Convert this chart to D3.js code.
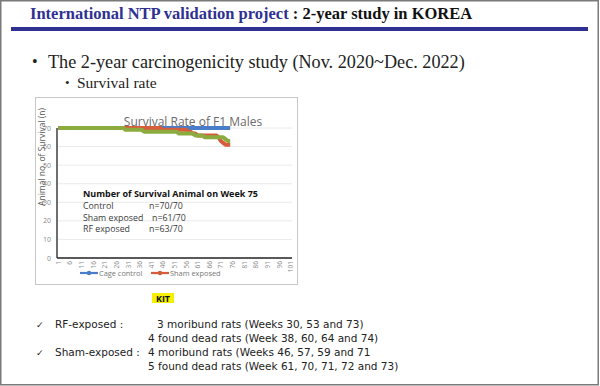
<!DOCTYPE html>
<html>
<head>
<meta charset="utf-8">
<script src="https://cdn.jsdelivr.net/npm/d3@7"></script>
<style>
  body { margin: 0; background: #fff; }
  svg { display: block; }
</style>
</head>
<body>
<div id="app"></div>
<script>
// weeks 1..101 on the category axis, labelled every 5th week
const weeks = d3.range(1, 102);
const tickWeeks = [1, 6, 11, 16, 21, 26, 31, 36, 41, 46, 51, 56, 61, 66, 71, 76, 81, 86, 91, 96, 101];
const yTicks = [0, 10, 20, 30, 40, 50, 60, 70];

// number of surviving animals, weeks 1..75
const cageControl = [
  70, 70, 70, 70, 70, 70, 70, 70, 70, 70, 70, 70, 70, 70, 70,
  70, 70, 70, 70, 70, 70, 70, 70, 70, 70, 70, 70, 70, 70, 70,
  70, 70, 70, 70, 70, 70, 70, 70, 70, 70, 70, 70, 70, 70, 70,
  70, 70, 70, 70, 70, 70, 70, 70, 70, 70, 70, 70, 70, 70, 70,
  70, 70, 70, 70, 70, 70, 70, 70, 70, 70, 70, 70, 70, 70, 70
];
const shamExposed = [
  70, 70, 70, 70, 70, 70, 70, 70, 70, 70, 70, 70, 70, 70, 70,
  70, 70, 70, 70, 70, 70, 70, 70, 70, 70, 70, 70, 70, 70, 70,
  70, 70, 70, 70, 70, 70, 70, 70, 70, 70, 70, 70, 70, 70, 70,
  69, 69, 69, 69, 69, 69, 69, 69, 69, 69, 69, 68, 68, 67, 67,
  66, 66, 66, 66, 66, 66, 66, 66, 66, 65, 63, 62, 61, 61, 61
];
const rfExposed = [
  70, 70, 70, 70, 70, 70, 70, 70, 70, 70, 70, 70, 70, 70, 70,
  70, 70, 70, 70, 70, 70, 70, 70, 70, 70, 70, 70, 70, 70, 69,
  69, 69, 69, 69, 69, 69, 69, 68, 68, 68, 68, 68, 68, 68, 68,
  68, 68, 68, 68, 68, 68, 68, 67, 67, 67, 67, 67, 67, 67, 66,
  66, 66, 66, 65, 65, 65, 65, 65, 65, 65, 65, 65, 64, 63, 63
];

const seriesNames = ["Cage control", "Sham exposed", "RF exposed"];
const summaryRows = [["Control", "n=70/70"], ["Sham exposed", "n=61/70"], ["RF exposed", "n=63/70"]];

let width = 600, height = 386;
const colors = ["#4a7dc9", "#d65c3c", "#8cab3e"];
const sans = "'Open Sans', 'Noto Sans', sans-serif";
const serif = "'Liberation Serif', 'DejaVu Serif', serif";

const svg = d3.select("#app").append("svg")
  .attr("width", width)
  .attr("height", height);

// slide frame
svg.append("rect")
  .attr("x", 0.75).attr("y", 0.75)
  .attr("width", width - 2.5).attr("height", height - 2)
  .attr("fill", "#fff")
  .attr("stroke", "#7a7a7a")
  .attr("stroke-width", 1.5);

// slide title
const title = svg.append("text")
  .attr("x", 30).attr("y", 19)
  .style("font-family", serif)
  .style("font-weight", "bold")
  .style("font-size", "16.5px");
title.append("tspan").attr("fill", "#2e3192").text("International NTP validation project");
title.append("tspan").attr("fill", "#111").text(" : 2-year study in KOREA");

svg.append("rect")
  .attr("x", 11).attr("y", 27)
  .attr("width", 577).attr("height", 4)
  .attr("fill", "#2e3192");

// bullets
svg.append("text").attr("x", 32).attr("y", 67)
  .style("font-family", serif).style("font-size", "16px").attr("fill", "#222")
  .text("•");
svg.append("text").attr("x", 48).attr("y", 68)
  .style("font-family", serif).style("font-size", "18.2px").attr("fill", "#222")
  .text("The 2-year carcinogenicity study (Nov. 2020~Dec. 2022)");
svg.append("text").attr("x", 65).attr("y", 87)
  .style("font-family", serif).style("font-size", "13px").attr("fill", "#222")
  .text("•");
svg.append("text").attr("x", 77).attr("y", 88)
  .style("font-family", serif).style("font-size", "15.5px").attr("fill", "#222")
  .text("Survival rate");

// chart box
svg.append("rect")
  .attr("x", 35.5).attr("y", 97.5)
  .attr("width", 262).attr("height", 187)
  .attr("fill", "#fff")
  .attr("stroke", "#c8c8c8");

const x = d3.scalePoint().domain(weeks).range([58.2, 290.6]);
const y = d3.scaleLinear().domain([0, 70]).range([258, 128]);

const g = svg.append("g");

// gridlines
g.append("g")
  .selectAll("line")
  .data(yTicks.slice(1))
  .join("line")
  .attr("x1", 57).attr("x2", 292)
  .attr("y1", d => y(d)).attr("y2", d => y(d))
  .attr("stroke", "#e4e4e4")
  .attr("stroke-width", 0.8);

// y tick labels
g.append("g")
  .selectAll("text")
  .data(yTicks)
  .join("text")
  .attr("x", 51)
  .attr("y", d => y(d) + 2.5)
  .attr("text-anchor", "end")
  .attr("fill", "#8a8a8a")
  .style("font-family", sans)
  .style("font-size", "7px")
  .text(d => d);

// y axis title
svg.append("text")
  .attr("transform", `translate(45,157) rotate(-90)`)
  .attr("text-anchor", "middle")
  .attr("fill", "#555")
  .style("font-family", sans)
  .style("font-size", "8.5px")
  .text("Animal no. of Survival (n)");

// x axis
const xAxis = g.append("g")
  .attr("transform", `translate(0,258)`)
  .call(d3.axisBottom(x).tickValues(tickWeeks).tickSize(0).tickPadding(3));
xAxis.select(".domain").remove();
xAxis.selectAll("text")
  .attr("transform", "rotate(-90)")
  .attr("text-anchor", "end")
  .attr("dx", "0")
  .attr("dy", "0.32em")
  .attr("x", -3)
  .attr("y", 0)
  .attr("fill", "#8a8a8a")
  .style("font-family", sans)
  .style("font-size", "6.5px");

g.append("line")
  .attr("x1", 57).attr("x2", 292)
  .attr("y1", 258).attr("y2", 258)
  .attr("stroke", "#222").attr("stroke-width", 1.3);
g.append("line")
  .attr("x1", 57).attr("x2", 57)
  .attr("y1", 128).attr("y2", 258)
  .attr("stroke", "#222").attr("stroke-width", 1.3);

// chart title (drawn under the series, they run through it)
svg.append("text")
  .attr("x", 193).attr("y", 126)
  .attr("text-anchor", "middle")
  .attr("fill", "#6b6b6b")
  .style("font-family", sans)
  .style("font-size", "12px")
  .text("Survival Rate of F1 Males");

// series
const line = d3.line()
  .x((d, i) => x(weeks[i]))
  .y(d => y(d));

const allSeries = [cageControl, shamExposed, rfExposed];
g.append("g")
  .selectAll("path")
  .data(allSeries)
  .join("path")
  .attr("d", d => line(d))
  .attr("fill", "none")
  .attr("stroke", (d, i) => colors[i])
  .attr("stroke-width", 4)
  .attr("stroke-linejoin", "round");

// summary box text
const note = svg.append("g").style("font-family", sans);
note.append("text")
  .attr("x", 83).attr("y", 197)
  .attr("fill", "#111")
  .style("font-weight", "bold")
  .style("font-size", "9px")
  .text("Number of Survival Animal on Week 75");
note.selectAll(".row")
  .data(summaryRows)
  .join("text")
  .attr("class", "row")
  .attr("x", 83)
  .attr("y", (d, i) => 209 + i * 11.5)
  .attr("fill", "#3a3a3a")
  .style("font-size", "8.8px")
  .text(d => d[0]);
note.selectAll(".val")
  .data(summaryRows)
  .join("text")
  .attr("class", "val")
  .attr("x", (d, i) => i === 1 ? 152 : 149)
  .attr("y", (d, i) => 209 + i * 11.5)
  .attr("fill", "#3a3a3a")
  .style("font-size", "8.8px")
  .text(d => d[1]);

// legend (only two entries fit in the box)
const legend = svg.append("g")
  .selectAll("g")
  .data(seriesNames.slice(0, 2))
  .join("g")
  .attr("transform", (d, i) => `translate(${80 + i * 71},273)`);
legend.append("line")
  .attr("x1", 0).attr("x2", 18)
  .attr("stroke", (d, i) => colors[i])
  .attr("stroke-width", 2.2);
legend.append("circle")
  .attr("cx", 9).attr("r", 2.2)
  .attr("fill", (d, i) => colors[i]);
legend.append("text")
  .attr("x", 19).attr("y", 2.6)
  .attr("fill", "#777")
  .style("font-family", sans)
  .style("font-size", "7.4px")
  .text(d => d);

// KIT label
svg.append("rect")
  .attr("x", 152).attr("y", 293)
  .attr("width", 22).attr("height", 10)
  .attr("fill", "#f5ef00");
svg.append("text")
  .attr("x", 163).attr("y", 301.5)
  .attr("text-anchor", "middle")
  .attr("fill", "#111")
  .style("font-family", sans)
  .style("font-weight", "bold")
  .style("font-size", "9px")
  .text("KIT");

// notes
const notes = [
  { check: true, label: "RF-exposed :", text: "3 moribund rats (Weeks 30, 53 and 73)", tx: 157, y: 328 },
  { check: false, label: "", text: "4 found dead rats (Week 38, 60, 64 and 74)", tx: 148, y: 342 },
  { check: true, label: "Sham-exposed :", text: "4 moribund rats (Weeks 46, 57, 59 and 71", tx: 148, y: 356 },
  { check: false, label: "", text: "5 found dead rats (Week 61, 70, 71, 72 and 73)", tx: 148, y: 370 }
];
const nf = svg.append("g")
  .style("font-family", "'DejaVu Sans', sans-serif")
  .style("font-size", "10.5px")
  .attr("fill", "#222");
notes.forEach(n => {
  if (n.check) {
    nf.append("text").attr("x", 36).attr("y", n.y).style("font-size", "9px").text("✓");
    nf.append("text").attr("x", 55).attr("y", n.y).text(n.label);
  }
  nf.append("text").attr("x", n.tx).attr("y", n.y).text(n.text);
});
</script>
</body>
</html>
